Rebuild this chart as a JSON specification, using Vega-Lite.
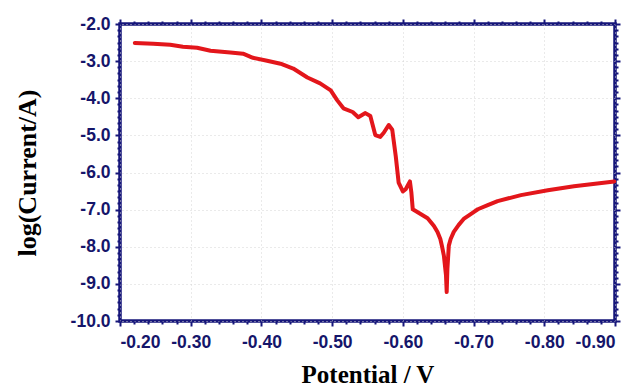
{
  "$schema": "https://vega.github.io/schema/vega-lite/v6.json",
  "width": 495,
  "height": 297,
  "autosize": {"type": "none"},
  "padding": {"left": 120, "top": 24, "right": 19, "bottom": 67},
  "background": "white",
  "config": {
    "view": {"stroke": "#16167a", "strokeWidth": 3.5},
    "axis": {
      "domain": false,
      "tickColor": "#16167a",
      "tickWidth": 2,
      "labelFont": "Liberation Sans",
      "labelFontWeight": "bold",
      "labelFontSize": 17.5,
      "labelColor": "#15156a",
      "titleFont": "Liberation Serif",
      "titleFontWeight": "bold",
      "titleFontSize": 25,
      "titleColor": "#000000"
    }
  },
  "data": {
    "values": [
      {"V": -0.221, "L": -2.51},
      {"V": -0.247, "L": -2.53},
      {"V": -0.271, "L": -2.56},
      {"V": -0.289, "L": -2.61},
      {"V": -0.309, "L": -2.64},
      {"V": -0.328, "L": -2.72},
      {"V": -0.356, "L": -2.77},
      {"V": -0.374, "L": -2.80},
      {"V": -0.388, "L": -2.91},
      {"V": -0.408, "L": -2.99},
      {"V": -0.427, "L": -3.07},
      {"V": -0.445, "L": -3.20},
      {"V": -0.465, "L": -3.44},
      {"V": -0.483, "L": -3.60},
      {"V": -0.498, "L": -3.79},
      {"V": -0.507, "L": -4.05},
      {"V": -0.516, "L": -4.27},
      {"V": -0.529, "L": -4.37},
      {"V": -0.537, "L": -4.51},
      {"V": -0.547, "L": -4.40},
      {"V": -0.554, "L": -4.48},
      {"V": -0.561, "L": -4.99},
      {"V": -0.568, "L": -5.04},
      {"V": -0.573, "L": -4.93},
      {"V": -0.580, "L": -4.72},
      {"V": -0.585, "L": -4.85},
      {"V": -0.590, "L": -5.57},
      {"V": -0.594, "L": -6.27},
      {"V": -0.600, "L": -6.51},
      {"V": -0.604, "L": -6.45},
      {"V": -0.610, "L": -6.24},
      {"V": -0.612, "L": -6.53},
      {"V": -0.614, "L": -6.99},
      {"V": -0.621, "L": -7.07},
      {"V": -0.635, "L": -7.23},
      {"V": -0.644, "L": -7.44},
      {"V": -0.649, "L": -7.60},
      {"V": -0.653, "L": -7.79},
      {"V": -0.6555, "L": -8.00},
      {"V": -0.658, "L": -8.24},
      {"V": -0.661, "L": -8.77},
      {"V": -0.662, "L": -9.22},
      {"V": -0.663, "L": -8.59},
      {"V": -0.665, "L": -7.97},
      {"V": -0.6676, "L": -7.79},
      {"V": -0.672, "L": -7.60},
      {"V": -0.679, "L": -7.41},
      {"V": -0.686, "L": -7.25},
      {"V": -0.696, "L": -7.12},
      {"V": -0.706, "L": -6.99},
      {"V": -0.720, "L": -6.88},
      {"V": -0.734, "L": -6.77},
      {"V": -0.767, "L": -6.61},
      {"V": -0.805, "L": -6.48},
      {"V": -0.842, "L": -6.37},
      {"V": -0.899, "L": -6.24}
    ]
  },
  "layer": [
    {
      "mark": {"type": "line", "opacity": 0},
      "encoding": {
        "x": {
          "field": "V", "type": "quantitative",
          "scale": {"domain": [-0.9, -0.2], "reverse": true, "nice": false, "zero": false},
          "axis": {
            "orient": "bottom", "labels": false, "title": null, "grid": false, "tickSize": 3,
            "values": [-0.22, -0.24, -0.26, -0.28, -0.32, -0.34, -0.36, -0.38, -0.42, -0.44, -0.46, -0.48, -0.52, -0.54, -0.56, -0.58, -0.62, -0.64, -0.66, -0.68, -0.72, -0.74, -0.76, -0.78, -0.82, -0.84, -0.86, -0.88]
          }
        },
        "y": {
          "field": "L", "type": "quantitative",
          "scale": {"domain": [-10, -2], "nice": false, "zero": false},
          "axis": {
            "orient": "left", "labels": false, "title": null, "grid": false, "tickSize": 3,
            "values": [-2.1667, -2.3333, -2.5, -2.6667, -2.8333, -3.1667, -3.3333, -3.5, -3.6667, -3.8333, -4.1667, -4.3333, -4.5, -4.6667, -4.8333, -5.1667, -5.3333, -5.5, -5.6667, -5.8333, -6.1667, -6.3333, -6.5, -6.6667, -6.8333, -7.1667, -7.3333, -7.5, -7.6667, -7.8333, -8.1667, -8.3333, -8.5, -8.6667, -8.8333, -9.1667, -9.3333, -9.5, -9.6667, -9.8333]
          }
        }
      }
    },
    {
      "mark": {"type": "line", "opacity": 0},
      "encoding": {
        "x": {
          "field": "V", "type": "quantitative",
          "scale": {"domain": [-0.9, -0.2], "reverse": true, "nice": false, "zero": false},
          "axis": {
            "orient": "top", "labels": false, "title": null, "grid": false, "tickSize": 3,
            "values": [-0.22, -0.24, -0.26, -0.28, -0.32, -0.34, -0.36, -0.38, -0.42, -0.44, -0.46, -0.48, -0.52, -0.54, -0.56, -0.58, -0.62, -0.64, -0.66, -0.68, -0.72, -0.74, -0.76, -0.78, -0.82, -0.84, -0.86, -0.88]
          }
        },
        "y": {
          "field": "L", "type": "quantitative",
          "scale": {"domain": [-10, -2], "nice": false, "zero": false},
          "axis": {
            "orient": "right", "labels": false, "title": null, "grid": false, "tickSize": 3,
            "values": [-2.1667, -2.3333, -2.5, -2.6667, -2.8333, -3.1667, -3.3333, -3.5, -3.6667, -3.8333, -4.1667, -4.3333, -4.5, -4.6667, -4.8333, -5.1667, -5.3333, -5.5, -5.6667, -5.8333, -6.1667, -6.3333, -6.5, -6.6667, -6.8333, -7.1667, -7.3333, -7.5, -7.6667, -7.8333, -8.1667, -8.3333, -8.5, -8.6667, -8.8333, -9.1667, -9.3333, -9.5, -9.6667, -9.8333]
          }
        }
      }
    },
    {
      "mark": {"type": "line", "opacity": 0},
      "encoding": {
        "x": {
          "field": "V", "type": "quantitative",
          "scale": {"domain": [-0.9, -0.2], "reverse": true, "nice": false, "zero": false},
          "axis": {
            "orient": "top", "labels": false, "title": null, "grid": false, "tickSize": 5,
            "values": [-0.2, -0.3, -0.4, -0.5, -0.6, -0.7, -0.8, -0.9]
          }
        },
        "y": {
          "field": "L", "type": "quantitative",
          "scale": {"domain": [-10, -2], "nice": false, "zero": false},
          "axis": {
            "orient": "right", "labels": false, "title": null, "grid": false, "tickSize": 5,
            "values": [-2, -3, -4, -5, -6, -7, -8, -9, -10]
          }
        }
      }
    },
    {
      "mark": {"type": "line", "color": "#e3161b", "strokeWidth": 4, "strokeJoin": "round", "strokeCap": "round"},
      "encoding": {
        "x": {
          "field": "V", "type": "quantitative",
          "scale": {"domain": [-0.9, -0.2], "reverse": true, "nice": false, "zero": false},
          "axis": {
            "orient": "bottom", "tickSize": 5, "labelPadding": 7,
            "values": [-0.2, -0.3, -0.4, -0.5, -0.6, -0.7, -0.8, -0.9],
            "labelExpr": "'-' + format(abs(datum.value), '.2f')",
            "grid": true, "gridColor": "#d4d4d4", "gridDash": [1, 3], "gridWidth": 1,
            "title": "Potential / V", "titlePadding": 12
          }
        },
        "y": {
          "field": "L", "type": "quantitative",
          "scale": {"domain": [-10, -2], "nice": false, "zero": false},
          "axis": {
            "orient": "left", "tickSize": 5, "labelPadding": 5,
            "values": [-2, -3, -4, -5, -6, -7, -8, -9, -10],
            "labelExpr": "'-' + format(abs(datum.value), '.1f')",
            "grid": true, "gridColor": "#d4d4d4", "gridDash": [1, 3], "gridWidth": 1,
            "title": "log(Current/A)", "titlePadding": 30, "titleFontSize": 26
          }
        }
      }
    }
  ],
  "resolve": {"axis": {"x": "independent", "y": "independent"}}
}
